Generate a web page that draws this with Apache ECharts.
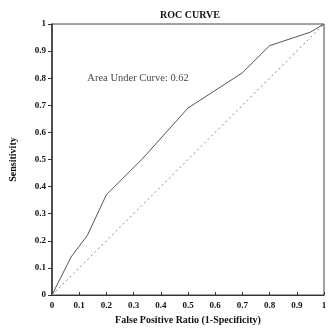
<!DOCTYPE html>
<html><head><meta charset="utf-8">
<script src="https://cdn.jsdelivr.net/npm/echarts@6/dist/echarts.min.js"></script>
<style>html,body{margin:0;padding:0;background:#fff}#c{width:330px;height:330px}</style>
</head><body><div id="c"></div>
<script>
const fpr = [0, 0.07, 0.13, 0.2, 0.33, 0.5, 0.7, 0.8, 0.95, 1];
const tpr = [0, 0.14, 0.22, 0.37, 0.5, 0.69, 0.82, 0.92, 0.97, 1];
const diagX = [0, 1];
const diagY = [0, 1];
const ticks = [0, 0.1, 0.2, 0.3, 0.4, 0.5, 0.6, 0.7, 0.8, 0.9, 1];
const title = 'ROC CURVE';
const xName = 'False Positive Ratio (1-Specificity)';
const yName = 'Sensitivity';
const note = 'Area Under Curve: 0.62';

const font = 'Liberation Serif';
const fmt = v => (v === 0 || v === 1) ? String(v) : v.toFixed(1);
const chart = echarts.init(document.getElementById('c'));
chart.setOption({
  animation: false,
  backgroundColor: '#fff',
  title: { text: title, left: 185, top: 5, textAlign: 'center',
    textStyle: { fontFamily: font, fontSize: 10, fontWeight: 'bold', color: '#111' } },
  grid: { left: 52, right: 6, top: 24, bottom: 33, show: true, borderColor: '#444', borderWidth: 1 },
  xAxis: { type: 'value', min: 0, max: 1, interval: 0.1,
    name: xName, nameLocation: 'middle', nameGap: 20,
    nameTextStyle: { fontFamily: font, fontSize: 10, fontWeight: 'bold', color: '#111' },
    axisLine: { show: true, lineStyle: { color: '#333', width: 1 } },
    axisTick: { show: true, inside: true, length: 3, lineStyle: { color: '#333' } },
    axisLabel: { fontFamily: font, fontSize: 9, fontWeight: 'bold', color: '#111', margin: 6, formatter: fmt },
    splitLine: { show: false } },
  yAxis: { type: 'value', min: 0, max: 1, interval: 0.1,
    name: yName, nameLocation: 'middle', nameGap: 34,
    nameTextStyle: { fontFamily: font, fontSize: 10, fontWeight: 'bold', color: '#111' },
    axisLine: { show: true, lineStyle: { color: '#333', width: 1.5 } },
    axisTick: { show: true, length: 4, lineStyle: { color: '#333' } },
    axisLabel: { fontFamily: font, fontSize: 9, fontWeight: 'bold', color: '#111', margin: 6, formatter: fmt },
    splitLine: { show: false } },
  series: [
    { type: 'line', data: fpr.map((x, i) => [x, tpr[i]]), symbol: 'none',
      lineStyle: { color: '#555', width: 1 } },
    { type: 'line', data: diagX.map((x, i) => [x, diagY[i]]), symbol: 'none',
      lineStyle: { color: '#888', width: 1, type: [2, 3] } },
    { type: 'scatter', data: [[0.13, 0.8]], symbolSize: 0,
      label: { show: true, position: 'right', distance: 0, formatter: note,
        fontFamily: font, fontSize: 10.5, color: '#111' } }
  ]
});
</script></body></html>
